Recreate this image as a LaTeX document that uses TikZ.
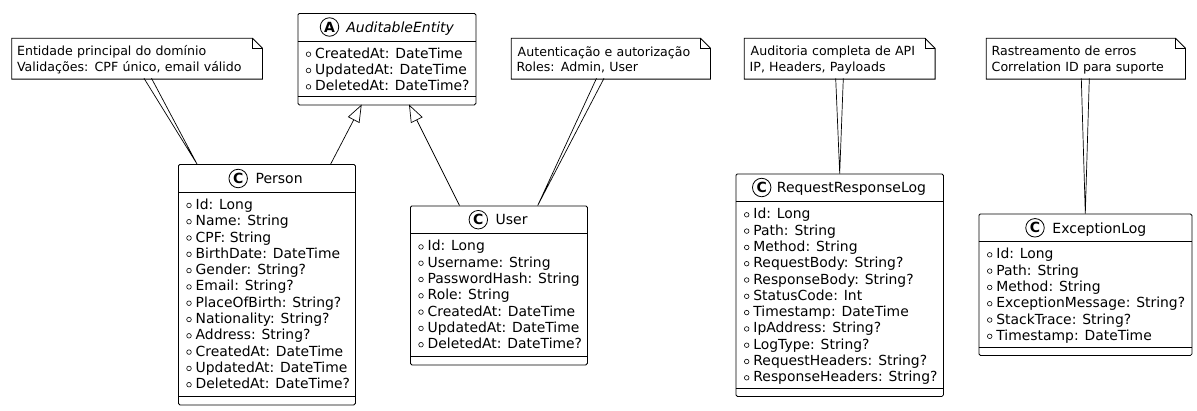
\documentclass[tikz,border=0pt]{standalone}
\usepackage{fontspec}
\setmainfont{DejaVu Sans}
\usetikzlibrary{arrows.meta,positioning,calc}
\tikzset{
  classbox/.style={draw,fill=white,rounded corners=1.5pt,anchor=north west,inner sep=0pt},
  classname/.style={anchor=base west,inner sep=0pt,font=\fontsize{14}{16}\selectfont},
  spot/.style={draw,circle,fill=white,minimum size=18.5pt,inner sep=0pt,font=\fontsize{14}{14}\selectfont\bfseries},
  attr/.style={anchor=base west,inner sep=0pt,font=\fontsize{13.9}{16}\selectfont},
  notebox/.style={anchor=north west,inner sep=0pt,minimum height=40pt,align=left,font=\fontsize{12.6}{15.8}\selectfont},
  inherit/.style={-{Triangle[open,length=17.5pt,width=13pt]},line width=0.7pt},
  notelink/.style={line width=0.7pt},
}
% attribute rows: name, marker x, first baseline, list
\newcommand{\classrows}[4]{%
  \foreach \t [count=\i] in {#4}{
    \pgfmathsetmacro\ya{#3+(\i-1)*16.3}
    \draw[line width=0.6pt] (#2,\ya-4) circle (2.3);
    \node[attr] (#1-\i) at (#2+6.3,\ya) {\t};
  }
}
\begin{document}
\begin{tikzpicture}[x=1pt,y=-1pt,line width=0.8pt]
\useasboundingbox (0,0) rectangle (1197,410);
% classes
\node[classbox,minimum width=178pt,minimum height=91.5pt] (auditable) at (297.5,13) {};
\draw (297.5,41) -- (475.5,41);
\draw (297.5,96.5) -- (475.5,96.5);
\node[spot] (auditable-spot) at (329.5,27) {A};
\node[classname,font=\fontsize{14}{16}\selectfont\itshape] (auditable-name) at ([xshift=16.5pt,yshift=-5.2pt]auditable-spot.center) {AuditableEntity};
\classrows{auditable}{308.5}{58.2}{CreatedAt: DateTime,UpdatedAt: DateTime,DeletedAt: DateTime?}

\node[classbox,minimum width=177pt,minimum height=240.5pt] (person) at (178,164) {};
\draw (178,192) -- (355,192);
\draw (178,396.5) -- (355,396.5);
\node[spot] (person-spot) at (238.2,178.5) {C};
\node[classname] (person-name) at ([xshift=17pt,yshift=-5.2pt]person-spot.center) {Person};
\classrows{person}{189}{209.4}{Id: Long,Name: String,CPF: String,BirthDate: DateTime,Gender: String?,Email: String?,PlaceOfBirth: String?,Nationality: String?,Address: String?,CreatedAt: DateTime,UpdatedAt: DateTime,DeletedAt: DateTime?}

\node[classbox,minimum width=177pt,minimum height=159pt] (user) at (410,205.5) {};
\draw (410,233.5) -- (587,233.5);
\draw (410,356.5) -- (587,356.5);
\node[spot] (user-spot) at (478.3,219.7) {C};
\node[classname] (user-name) at ([xshift=17pt,yshift=-5.2pt]user-spot.center) {User};
\classrows{user}{421}{250.9}{Id: Long,Username: String,PasswordHash: String,Role: String,CreatedAt: DateTime,UpdatedAt: DateTime,DeletedAt: DateTime?}

\node[classbox,minimum width=207.5pt,minimum height=222.5pt] (request) at (735.5,173.5) {};
\draw (735.5,201.5) -- (943,201.5);
\draw (735.5,388.5) -- (943,388.5);
\node[spot] (request-spot) at (761.7,187.5) {C};
\node[classname] (request-name) at ([xshift=14.8pt,yshift=-5.2pt]request-spot.center) {RequestResponseLog};
\classrows{request}{746.7}{218.8}{Id: Long,Path: String,Method: String,RequestBody: String?,ResponseBody: String?,StatusCode: Int,Timestamp: DateTime,IpAddress: String?,LogType: String?,RequestHeaders: String?,ResponseHeaders: String?}

\node[classbox,minimum width=213pt,minimum height=141.5pt] (exception) at (978.5,213.5) {};
\draw (978.5,241.5) -- (1191.5,241.5);
\draw (978.5,347.5) -- (1191.5,347.5);
\node[spot] (exception-spot) at (1035,227.8) {C};
\node[classname] (exception-name) at ([xshift=17pt,yshift=-5.2pt]exception-spot.center) {ExceptionLog};
\classrows{exception}{989.7}{258.8}{Id: Long,Path: String,Method: String,ExceptionMessage: String?,StackTrace: String?,Timestamp: DateTime}
% notes
\node[notebox,minimum width=250pt,text width=250pt] (note-person) at (11.7,38.3) {\rule{0pt}{12pt}\hspace*{5pt}Entidade principal do domínio\\\hspace*{5pt}Validações: CPF único, email válido};
\node[notebox,minimum width=198.4pt,text width=198.4pt] (note-user) at (511.3,38.3) {\rule{0pt}{12pt}\hspace*{6pt}Autenticação e autorização\\\hspace*{5pt}Roles: Admin, User};
\node[notebox,minimum width=190pt,text width=190pt] (note-request) at (744.3,38.3) {\rule{0pt}{12pt}\hspace*{6pt}Auditoria completa de API\\\hspace*{5pt}IP, Headers, Payloads};
\node[notebox,minimum width=198.4pt,text width=198.4pt] (note-exception) at (986.3,38.3) {\rule{0pt}{12pt}\hspace*{5pt}Rastreamento de erros\\\hspace*{5pt}Correlation ID para suporte};
\foreach \n in {note-person,note-user,note-request,note-exception}{
  \draw ([xshift=-10pt]\n.north east) -- (\n.north west) -- (\n.south west) -- (\n.south east) -- ([yshift=-10pt]\n.north east) -- cycle;
  \draw ([xshift=-10pt]\n.north east) |- ([yshift=-10pt]\n.north east);
}
% inheritance
\coordinate (person-top) at (330.7,164);
\coordinate (user-top) at (459.5,205.5);
\coordinate (auditable-a) at (361.7,104.5);
\coordinate (auditable-b) at (409,104.5);
\draw[inherit] (person-top) -- (auditable-a);
\draw[inherit] (user-top) -- (auditable-b);
% note links
\coordinate (np1) at (144,78.3);
\coordinate (np2) at (151.5,78.3);
\coordinate (person-link) at (197,164);
\draw[notelink] (np1) -- (person-link) -- (np2);
\coordinate (nu1) at (596.5,78.3);
\coordinate (nu2) at (604,78.3);
\coordinate (user-link) at (537.7,205.5);
\draw[notelink] (nu1) -- (user-link) -- (nu2);
\coordinate (nr1) at (835.7,78.3);
\coordinate (nr2) at (843.3,78.3);
\coordinate (request-link) at (839.7,173.5);
\draw[notelink] (nr1) -- (request-link) -- (nr2);
\coordinate (ne1) at (1081.3,78.3);
\coordinate (ne2) at (1089.3,78.3);
\coordinate (exception-link) at (1085.3,213.5);
\draw[notelink] (ne1) -- (exception-link) -- (ne2);
\end{tikzpicture}
\end{document}
